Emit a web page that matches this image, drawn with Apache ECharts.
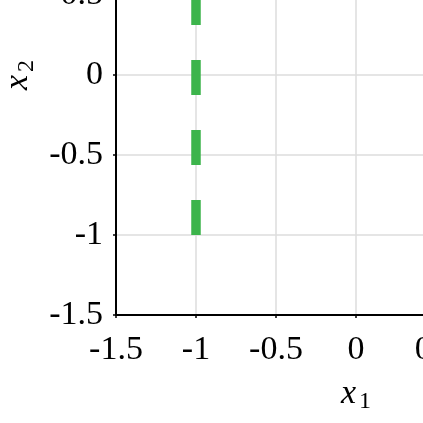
<!DOCTYPE html>
<html>
<head>
<meta charset="utf-8">
<script src="https://cdn.jsdelivr.net/npm/echarts@6/dist/echarts.min.js"></script>
<style>
html,body{margin:0;padding:0;background:#fff;overflow:hidden;width:423px;height:423px;position:relative;}
#c{width:800px;height:800px;position:absolute;left:0;top:-200px;}
</style>
</head>
<body>
<div id="c"></div>
<script>
// axis ranges / ticks
const xRange = [-1.5, 1.5];
const yRange = [-1.5, 1.5];
const tickStep = 0.5;
// dashed boundary line x1 = -1 (from x2 = -1 upward)
const lineX = [-1, -1];
const lineY = [-1, 1.5];

const chart = echarts.init(document.getElementById('c'), null, {renderer: 'canvas'});
const serif = '"Liberation Serif", "Times New Roman", serif';
const fmt = v => (Math.abs(v) < 1e-9 ? '0' : String(v));
const nameRich = {
  i: {fontFamily: serif, fontStyle: 'italic', fontSize: 34, color: '#000', verticalAlign: 'bottom', padding: [0,0,3,0]},
  s: {fontFamily: serif, fontSize: 24, color: '#000', verticalAlign: 'bottom', padding: [0,0,0,3]}
};
chart.setOption({
  animation: false,
  backgroundColor: '#fff',
  grid: {left: 116, top: 35, width: 480, height: 480, containLabel: false, outerBoundsMode: 'none'},
  xAxis: {
    type: 'value', min: xRange[0], max: xRange[1], interval: tickStep,
    name: '{i|x}{s|1}', nameLocation: 'middle', nameGap: 62,
    nameTextStyle: {rich: nameRich},
    axisLine: {show: true, onZero: false, lineStyle: {color: '#000', width: 2}},
    axisTick: {show: true, length: 3, lineStyle: {color: '#000', width: 1.5}},
    axisLabel: {fontFamily: serif, fontSize: 34, color: '#000', margin: 18, formatter: fmt, hideOverlap: false},
    splitLine: {show: true, lineStyle: {color: '#dcdcdc', width: 1.5}}
  },
  yAxis: {
    type: 'value', min: yRange[0], max: yRange[1], interval: tickStep,
    name: '{i|x}{s|2}', nameLocation: 'middle', nameGap: 67,
    nameTextStyle: {rich: nameRich},
    axisLine: {show: true, onZero: false, lineStyle: {color: '#000', width: 2}},
    axisTick: {show: true, length: 3, lineStyle: {color: '#000', width: 1.5}},
    axisLabel: {fontFamily: serif, fontSize: 34, color: '#000', margin: 13, formatter: fmt, hideOverlap: false},
    splitLine: {show: true, lineStyle: {color: '#dcdcdc', width: 1.5}}
  },
  series: [{
    type: 'line',
    data: lineX.map((x, i) => [x, lineY[i]]),
    symbol: 'none',
    lineStyle: {color: '#3cb44b', width: 9.5, type: [35, 35], cap: 'butt'}
  }]
});
</script>
</body>
</html>
